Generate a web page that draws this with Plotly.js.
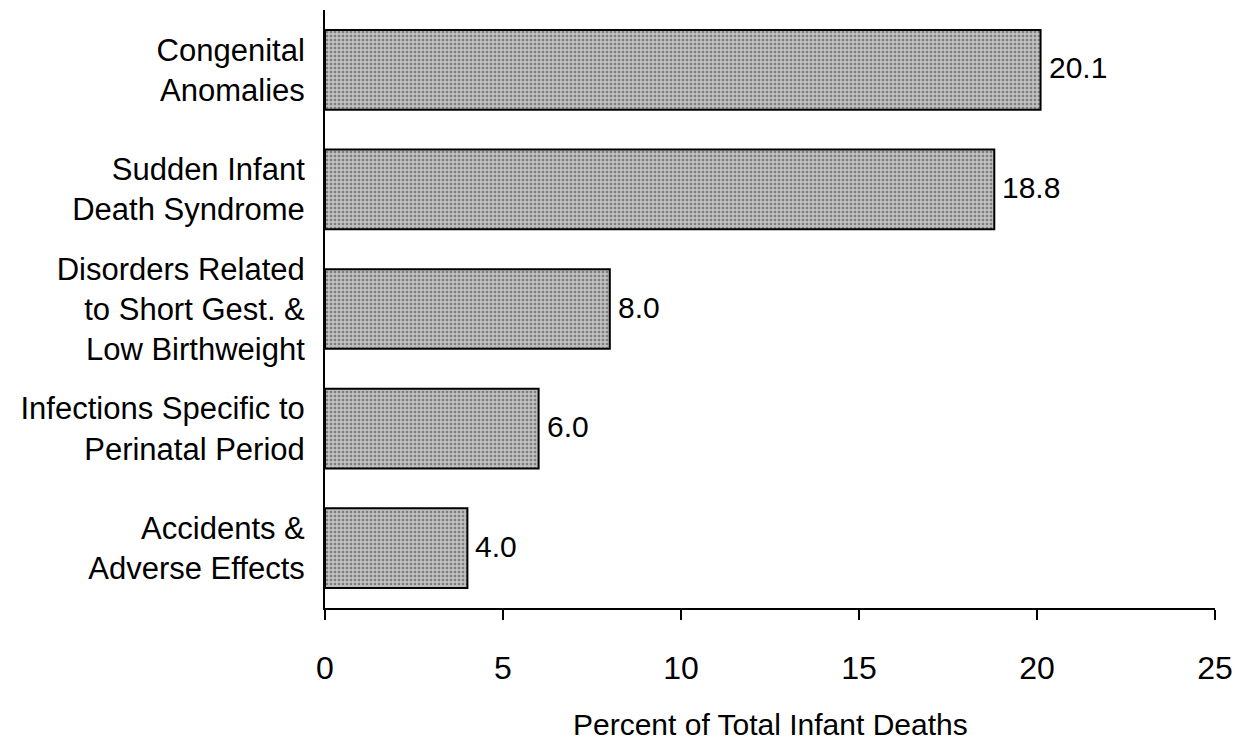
<!DOCTYPE html>
<html>
<head>
<meta charset="utf-8">
<script src="https://cdn.plot.ly/plotly-3.0.1.min.js"></script>
<style>html,body{margin:0;padding:0;background:#fff;}#chart{width:1238px;height:745px;}</style>
</head>
<body>
<div id="chart"></div>
<script>
const categories = [
  "Congenital<br>Anomalies",
  "Sudden Infant<br>Death Syndrome",
  "Disorders Related<br>to Short Gest. &<br>Low Birthweight",
  "Infections Specific to<br>Perinatal Period",
  "Accidents &<br>Adverse Effects"
];
const values = [20.1, 18.8, 8.0, 6.0, 4.0];
const valueLabels = ["20.1", "18.8", "8.0", "6.0", "4.0"];
const xTicks = [0, 5, 10, 15, 20, 25];
const xTitle = "Percent of Total Infant Deaths";

const FONT = "'Liberation Sans', Arial, Helvetica, sans-serif";

const trace = {
  type: 'bar',
  orientation: 'h',
  x: values,
  y: categories,
  marker: {
    color: '#b5b5b5',
    line: {color: '#000', width: 2},
    pattern: {shape: '.', fgcolor: '#7c7c7c', bgcolor: '#c0c0c0', size: 4, solidity: 0.35}
  },
  hoverinfo: 'none'
};

const valueAnnotations = values.map((v, i) => ({
  x: v, y: categories[i], xref: 'x', yref: 'y',
  text: valueLabels[i], showarrow: false,
  xanchor: 'left', yanchor: 'middle', xshift: 6, yshift: 2,
  font: {family: FONT, size: 30, color: '#000'}
}));

const layout = {
  width: 1238,
  height: 745,
  margin: {l: 325, r: 23, t: 10, b: 137},
  paper_bgcolor: '#fff',
  plot_bgcolor: '#fff',
  showlegend: false,
  bargap: 1/3,
  font: {family: FONT, size: 31, color: '#000'},
  xaxis: {
    range: [0, 25],
    tickvals: xTicks,
    ticktext: xTicks.map(String),
    ticks: 'outside',
    ticklen: 10,
    tickwidth: 2,
    tickcolor: '#000',
    showline: true,
    linecolor: '#000',
    linewidth: 2,
    showgrid: false,
    zeroline: false,
    ticklabelstandoff: 21,
    tickfont: {family: FONT, size: 32, color: '#000'}
  },
  yaxis: {
    type: 'category',
    range: [4.5, -0.5],
    showline: true,
    linecolor: '#000',
    linewidth: 2,
    ticks: '',
    showgrid: false,
    zeroline: false,
    ticklabelstandoff: 12,
    tickfont: {family: FONT, size: 31, color: '#000'}
  },
  annotations: valueAnnotations.concat([{
    text: xTitle, showarrow: false,
    xref: 'paper', yref: 'paper', x: 0.5, y: (608 - 724) / 598,
    xanchor: 'center', yanchor: 'middle', borderpad: 0,
    font: {family: FONT, size: 30, color: '#000'}
  }])
};

Plotly.newPlot('chart', [trace], layout, {staticPlot: true, displayModeBar: false});
</script>
</body>
</html>
